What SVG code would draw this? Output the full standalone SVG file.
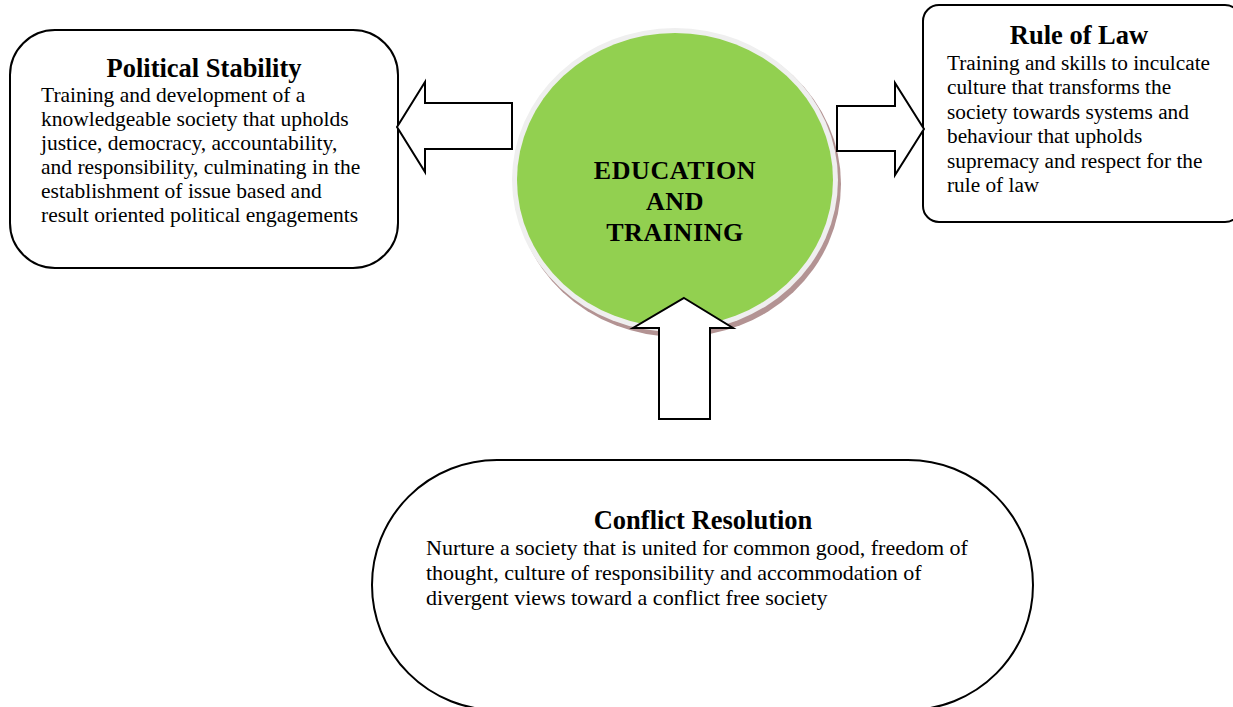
<svg xmlns="http://www.w3.org/2000/svg" width="1233" height="707" viewBox="0 0 1233 707">
<style>
.box{fill:#fff;stroke:#000;stroke-width:2}
.arr{fill:#fff;stroke:#000;stroke-width:2;stroke-linejoin:miter}
.t{font-family:"Liberation Serif","Times New Roman",serif;font-weight:bold;font-size:26.5px;fill:#000;text-anchor:middle}
.b{font-family:"Liberation Serif","Times New Roman",serif;font-size:21.5px;fill:#000}
.c{font-family:"Liberation Serif","Times New Roman",serif;font-weight:bold;font-size:26px;fill:#000;text-anchor:middle;letter-spacing:0.6px}
</style>
<rect width="1233" height="707" fill="#fff"/>
<g id="center">
<ellipse cx="678" cy="184" rx="163" ry="153" fill="#b39393"/>
<ellipse cx="675" cy="180" rx="163" ry="152" fill="#efefef"/>
<ellipse cx="675" cy="180" rx="158" ry="147" fill="#92d050"/>
<text class="c" x="675" y="179">EDUCATION</text>
<text class="c" x="675" y="210">AND</text>
<text class="c" x="675" y="241">TRAINING</text>
</g>
<g id="political-stability">
<rect class="box" x="10" y="30" width="388" height="238" rx="45" ry="45"/>
<text class="t" x="204" y="77">Political Stability</text>
<text class="b" x="41" y="102">Training and development of a</text>
<text class="b" x="41" y="126">knowledgeable society that upholds</text>
<text class="b" x="41" y="150">justice, democracy, accountability,</text>
<text class="b" x="41" y="174">and responsibility, culminating in the</text>
<text class="b" x="41" y="198">establishment of issue based and</text>
<text class="b" x="41" y="222">result oriented political engagements</text>
</g>
<g id="rule-of-law">
<rect class="box" x="923" y="5" width="318" height="217" rx="16" ry="16"/>
<text class="t" x="1079" y="44">Rule of Law</text>
<text class="b" x="947" y="70" style="font-size:21.3px">Training and skills to inculcate</text>
<text class="b" x="947" y="94" style="font-size:21.3px">culture that transforms the</text>
<text class="b" x="947" y="119" style="font-size:21.3px">society towards systems and</text>
<text class="b" x="947" y="143" style="font-size:21.3px">behaviour that upholds</text>
<text class="b" x="947" y="168" style="font-size:21.3px">supremacy and respect for the</text>
<text class="b" x="947" y="192" style="font-size:21.3px">rule of law</text>
</g>
<g id="conflict-resolution">
<rect class="box" x="372" y="460" width="661" height="250" rx="125" ry="125"/>
<text class="t" x="703" y="529">Conflict Resolution</text>
<text class="b" x="426" y="555" style="font-size:22px">Nurture a society that is united for common good, freedom of</text>
<text class="b" x="426" y="580" style="font-size:22px">thought, culture of responsibility and accommodation of</text>
<text class="b" x="426" y="605" style="font-size:22px">divergent views toward a conflict free society</text>
</g>
<g id="connectors">
<polygon class="arr" points="397,127 425,82 425,103 512,103 512,149 425,149 425,172"/>
<polygon class="arr" points="837,106 895,106 895,83 924,129 895,175 895,151 837,151"/>
<polygon class="arr" points="684,298 733,328 710,328 710,419 659,419 659,328 633,328"/>
</g>
</svg>
